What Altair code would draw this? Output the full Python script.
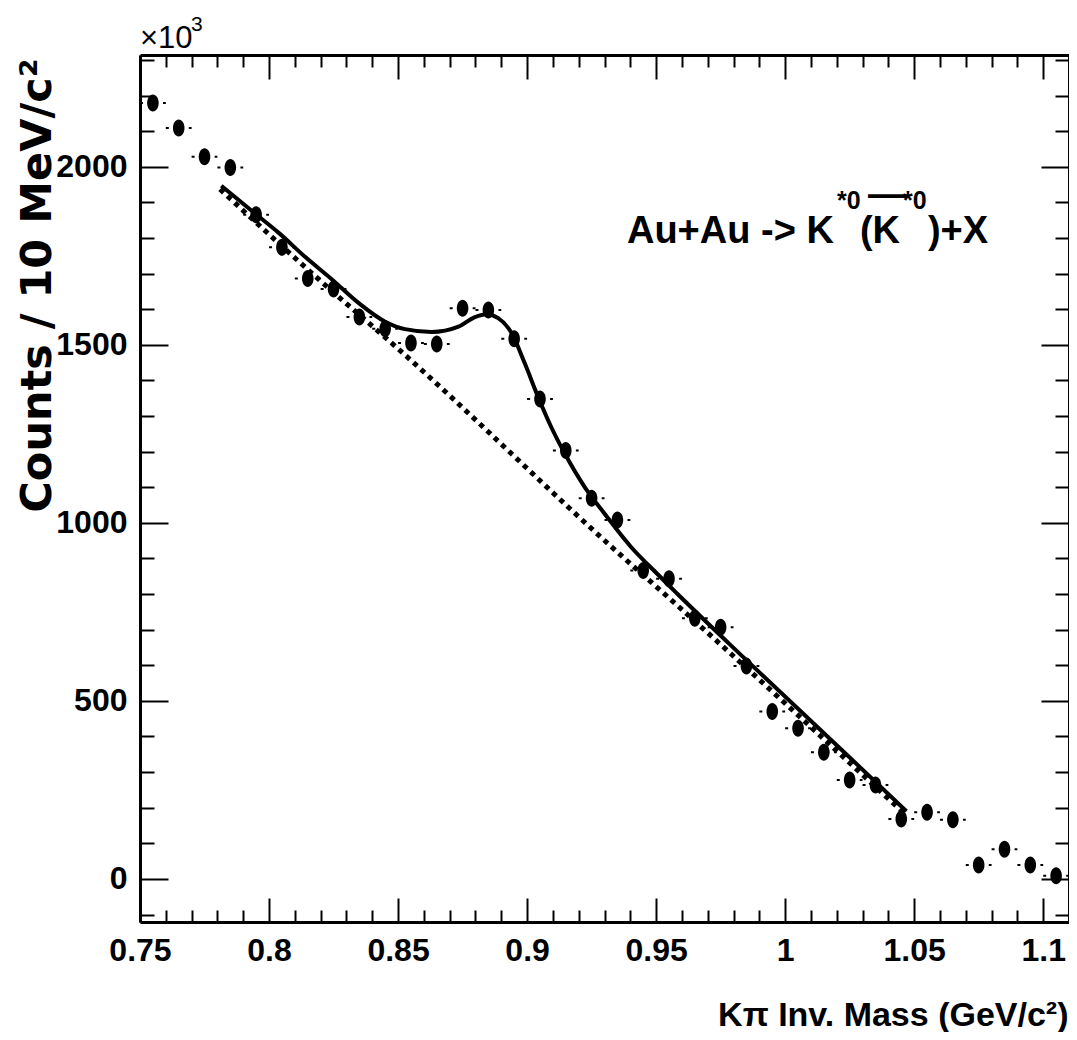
import altair as alt
import pandas as pd

# ---------------- data ----------------
mass = [0.755, 0.765, 0.775, 0.785, 0.795, 0.805, 0.815, 0.825, 0.835, 0.845,
        0.855, 0.865, 0.875, 0.885, 0.895, 0.905, 0.915, 0.925, 0.935, 0.945,
        0.955, 0.965, 0.975, 0.985, 0.995, 1.005, 1.015, 1.025, 1.035, 1.045,
        1.055, 1.065, 1.075, 1.085, 1.095, 1.105]
counts = [2179, 2109, 2028, 1998, 1865, 1774, 1686, 1657, 1578, 1545,
          1505, 1502, 1603, 1598, 1517, 1348, 1203, 1069, 1008, 866,
          843, 732, 707, 598, 470, 423, 356, 278, 264, 168,
          187, 166, 39, 83, 39, 9]
half_bin = 0.005

fit_x = [0.7815, 0.7947, 0.804, 0.8143, 0.8245, 0.8348, 0.845, 0.8527, 0.863,
         0.8734, 0.8798, 0.8843, 0.8888, 0.894, 0.8991, 0.9042, 0.9093, 0.9145,
         0.9222, 0.9299, 0.9402, 0.9504, 0.9582, 0.9842, 1.024, 1.047]
fit_y = [1947, 1868, 1813, 1745, 1683, 1617, 1565, 1544, 1536,
         1551, 1578, 1586, 1575, 1533, 1448, 1355, 1270, 1196,
         1102, 1027, 933, 857, 801, 620, 348, 190]

bg_x = [0.781, 0.8194, 0.85, 0.9362, 0.9556, 1.046]
bg_y = [1937, 1683, 1489, 910, 785, 185]

x_domain = [0.75, 1.11]
y_domain = [-121, 2314]
x_major = [0.75, 0.8, 0.85, 0.9, 0.95, 1.0, 1.05, 1.1]
x_minor = [0.76, 0.77, 0.78, 0.79, 0.81, 0.82, 0.83, 0.84, 0.86, 0.87, 0.88, 0.89,
           0.91, 0.92, 0.93, 0.94, 0.96, 0.97, 0.98, 0.99, 1.01, 1.02, 1.03, 1.04,
           1.06, 1.07, 1.08, 1.09]
y_major = [0, 500, 1000, 1500, 2000]
y_minor = [-100, 100, 200, 300, 400, 600, 700, 800, 900, 1100, 1200, 1300, 1400,
           1600, 1700, 1800, 1900, 2100, 2200, 2300]

ann_x = [0.9387]
ann_y = [1786]

# ---------------- tables ----------------
df = pd.DataFrame({"mass": mass, "counts": counts})
df["lo"] = df["mass"] - half_bin
df["hi"] = df["mass"] + half_bin
fit_df = pd.DataFrame({"x": fit_x, "y": fit_y})
bg_df = pd.DataFrame({"x": bg_x, "y": bg_y})
ann_df = pd.DataFrame({"x": ann_x, "y": ann_y})
corner_df = pd.DataFrame({"x": [x_domain[0]], "y": [y_domain[1]]})

FONT = "Liberation Sans, Arial, sans-serif"

xs = alt.Scale(domain=x_domain, nice=False, zero=False)
ys = alt.Scale(domain=y_domain, nice=False, zero=False)

common = dict(grid=False, domain=False, tickColor="black", tickWidth=2)

ax_bottom_major = alt.Axis(
    orient="bottom", values=x_major, offset=-24, tickSize=24, format="~g",
    labelFont=FONT, labelFontSize=32, labelFontWeight="bold", labelColor="black",
    labelPadding=13, labelOverlap=False, labelFlush=False, labelBound=False,
    title="Kπ Inv. Mass (GeV/c²)", titleFont=FONT, titleFontSize=34,
    titleFontWeight="bold", titleColor="black", titleAlign="right",
    titleBaseline="alphabetic", titleAngle=0, titleX=928, titleY=127, **common)
ax_bottom_minor = alt.Axis(orient="bottom", values=x_minor, offset=-12, tickSize=12,
                           labels=False, title=None, **common)
ax_top_major = alt.Axis(orient="top", values=x_major, offset=-24, tickSize=24,
                        labels=False, title=None, **common)
ax_top_minor = alt.Axis(orient="top", values=x_minor, offset=-12, tickSize=12,
                        labels=False, title=None, **common)

ax_left_major = alt.Axis(
    orient="left", values=y_major, offset=-28, tickSize=28, format="d",
    labelFont=FONT, labelFontSize=32, labelFontWeight="bold", labelColor="black",
    labelPadding=13, labelOverlap=False, labelFlush=False, labelBound=False,
    title="Counts / 10 MeV/c²", titleFont="DejaVu Sans", titleFontSize=43,
    titleFontWeight="bold", titleColor="black", titleAngle=270, titleAlign="right",
    titleBaseline="alphabetic", titleX=-118, titleY=3, **common)
ax_left_minor = alt.Axis(orient="left", values=y_minor, offset=-14, tickSize=14,
                         labels=False, title=None, **common)
ax_right_major = alt.Axis(orient="right", values=y_major, offset=-28, tickSize=28,
                          labels=False, title=None, **common)
ax_right_minor = alt.Axis(orient="right", values=y_minor, offset=-14, tickSize=14,
                          labels=False, title=None, **common)

frame = dict(grid=False, domain=True, domainColor="black", domainWidth=3,
             ticks=False, labels=False, title=None, offset=0)
ax_frame_bottom = alt.Axis(orient="bottom", **frame)
ax_frame_left = alt.Axis(orient="left", **frame)
ax_frame_top = alt.Axis(orient="top", **frame)
ax_frame_right = alt.Axis(orient="right", **frame)

ELLIPSE = "M-0.68,0A0.68,1,0,1,0,0.68,0A0.68,1,0,1,0,-0.68,0Z"

err = alt.Chart(df).mark_rule(color="black", strokeWidth=2, strokeDash=[3, 20]).encode(
    x=alt.X("lo:Q", scale=xs, axis=ax_bottom_major),
    x2="hi:Q",
    y=alt.Y("counts:Q", scale=ys, axis=ax_left_major),
)

pts = alt.Chart(df).mark_point(shape=ELLIPSE, filled=True, size=289, color="black",
                               opacity=1).encode(
    x=alt.X("mass:Q", scale=xs, axis=ax_bottom_minor),
    y=alt.Y("counts:Q", scale=ys, axis=ax_left_minor),
)

fit = alt.Chart(fit_df).mark_line(color="black", strokeWidth=4, interpolate="monotone").encode(
    x=alt.X("x:Q", scale=xs, axis=ax_top_major),
    y=alt.Y("y:Q", scale=ys, axis=ax_right_major),
)

bg = alt.Chart(bg_df).mark_line(color="black", strokeWidth=5, strokeDash=[5, 5],
                                strokeCap="butt", interpolate="monotone").encode(
    x=alt.X("x:Q", scale=xs, axis=ax_top_minor),
    y=alt.Y("y:Q", scale=ys, axis=ax_right_minor),
)


def piece(data, text, dx, dy, size, weight="bold", xaxis=None, yaxis=None):
    return alt.Chart(data).mark_text(
        align="left", baseline="alphabetic", dx=dx, dy=dy, font=FONT,
        fontSize=size, fontWeight=weight, color="black").encode(
        x=alt.X("x:Q", scale=xs, axis=xaxis),
        y=alt.Y("y:Q", scale=ys, axis=yaxis),
        text=alt.value(text),
    )


texts = [
    piece(ann_df, "Au+Au -> K", 0, 0, 38, xaxis=ax_frame_bottom, yaxis=ax_frame_left),
    piece(ann_df, "*0", 210, -34, 25, xaxis=ax_frame_top, yaxis=ax_frame_right),
    piece(ann_df, "(K", 233, 0, 38),
    piece(ann_df, "\u2014", 241, -36, 38),
    piece(ann_df, "*0", 276, -34, 25),
    piece(ann_df, ")+X", 301, 0, 38),
    piece(corner_df, "\u00d710", 0, -7, 31, weight="normal"),
    piece(corner_df, "3", 51, -24, 21, weight="normal"),
]

chart = alt.layer(err, pts, fit, bg, *texts).resolve_axis(
    x="independent", y="independent"
).properties(
    width=929, height=867,
    autosize=alt.AutoSizeParams(type="none"),
    padding={"left": 132, "top": 47, "right": 0, "bottom": 110},
).configure_view(stroke="black", strokeWidth=3).configure(background="white")

chart.save("out.html", embed_options={"renderer": "svg", "actions": False})
